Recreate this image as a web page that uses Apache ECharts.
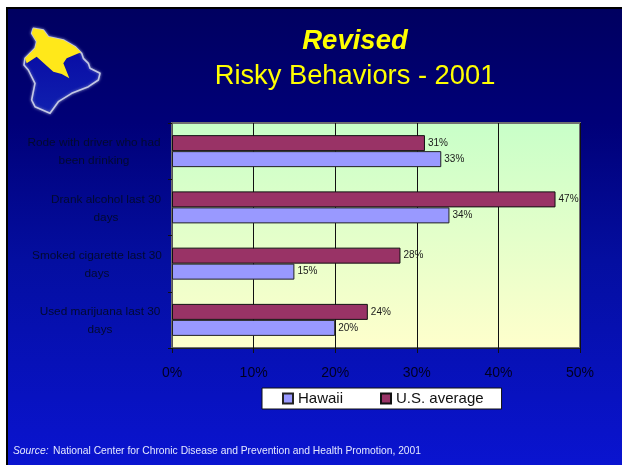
<!DOCTYPE html>
<html>
<head>
<meta charset="utf-8">
<style>html,body{margin:0;padding:0;background:#fff}#c{width:622px;height:465px}</style>
<script src="https://cdn.jsdelivr.net/npm/echarts@6/dist/echarts.min.js"></script>
</head>
<body>
<div id="c"></div>
<script>
const categories = ["Rode with driver who had\nbeen drinking", "Drank alcohol last 30\ndays", "Smoked cigarette last 30\ndays", "Used marijuana last 30\ndays"];
const hawaii = [33, 34, 15, 20];
const usAverage = [31, 47, 28, 24];
const xTicks = [0, 10, 20, 30, 40, 50];
const seriesNames = ["Hawaii", "U.S. average"];
const titleLines = ["Revised", "Risky Behaviors - 2001"];
const sourceNote = ["Source:", "National Center for Chronic Disease and Prevention and Health Promotion, 2001"];

const FONT = '"Liberation Sans", Arial, sans-serif';
const labelWidths = [136, 112, 130, 124];
const labelRich = {};
labelWidths.forEach((w, i) => { labelRich['c' + i] = { width: w, align: 'center', lineHeight: 18, fontSize: 11.8, fontFamily: FONT, color: '#020a30', padding: [2, 0, 0, 0] }; });

const chart = echarts.init(document.getElementById('c'), null, { renderer: 'canvas' });
const scale = p => p.map(([x, y]) => [x / 3, y / 3]);
const island = scale([[100,85],[130,90],[145,110],[190,120],[225,140],[245,160],[250,175],[265,190],[270,205],[300,220],[295,240],[265,260],[215,280],[175,305],[150,340],[105,320],[95,300],[105,250],[85,210],[72,195],[75,175],[105,145],[110,125],[95,100]]);
const north = scale([[100,85],[130,90],[145,110],[190,120],[225,140],[243,157],[200,175],[190,190],[208,235],[185,222],[160,215],[110,170],[80,190],[75,175],[105,145],[110,125],[95,100]]);

const barLabel = { show: true, position: 'right', distance: 3, formatter: '{c}%', color: '#1a1a1a', fontSize: 10, fontFamily: FONT };
chart.setOption({
  animation: false,
  backgroundColor: '#ffffff',
  graphic: [
    { type: 'rect', z: -10, shape: { x: 6, y: 7, width: 616, height: 458 }, style: { fill: '#000000' } },
    { type: 'rect', z: -9, shape: { x: 8, y: 9, width: 614, height: 456 }, style: { fill: new echarts.graphic.LinearGradient(0, 0, 0, 1, [
      { offset: 0, color: '#000060' }, { offset: 0.25, color: '#000078' }, { offset: 0.55, color: '#040ea0' }, { offset: 1, color: '#0a14d0' }
    ]) } },
    { type: 'polygon', z: 5, shape: { points: island }, style: { fill: new echarts.graphic.LinearGradient(0, 0, 0, 1, [{ offset: 0, color: '#0606a0' }, { offset: 1, color: '#1020b0' }]), stroke: '#c4c8e4', lineWidth: 1.6, lineJoin: 'round', shadowBlur: 3, shadowColor: '#8088c0' } },
    { type: 'polygon', z: 6, shape: { points: north }, style: { fill: '#ffe81a', stroke: 'none' } }
  ],
  title: [
    { text: titleLines[0], left: 355, top: 28, padding: 0, textAlign: 'center', textStyle: { color: '#ffff00', fontSize: 27.5, fontWeight: 'bold', fontStyle: 'italic', fontFamily: FONT } },
    { text: titleLines[1], left: 355, top: 63, padding: 0, textAlign: 'center', textStyle: { color: '#ffff00', fontSize: 27.3, fontWeight: 'normal', fontFamily: FONT } },
    { text: sourceNote[0], left: 13, top: 446, padding: 0, textStyle: { color: '#e4e8ff', fontSize: 10.3, fontStyle: 'italic', fontWeight: 'normal', fontFamily: FONT } },
    { text: sourceNote[1], left: 53, top: 446, padding: 0, textStyle: { color: '#e4e8ff', fontSize: 10.3, fontWeight: 'normal', fontFamily: FONT } }
  ],
  grid: {
    left: 172, right: 42, top: 123, bottom: 117, containLabel: false, show: true,
    borderColor: '#707070', borderWidth: 2,
    backgroundColor: new echarts.graphic.LinearGradient(0, 0, 0, 1, [{ offset: 0, color: '#c8ffc8' }, { offset: 1, color: '#ffffcc' }])
  },
  legend: {
    data: seriesNames, left: 262, top: 388, orient: 'horizontal', icon: 'rect', itemWidth: 10, itemHeight: 10, itemGap: 37,
    padding: [3, 18, 3, 20], backgroundColor: '#ffffff', borderColor: '#111111', borderWidth: 1, borderRadius: 0,
    textStyle: { color: '#111111', fontSize: 15, fontFamily: FONT }
  },
  xAxis: {
    type: 'value', min: 0, max: 50, interval: 10,
    axisLine: { show: true, lineStyle: { color: '#222', width: 1 } },
    axisTick: { show: true, length: 5, lineStyle: { color: '#111' } },
    splitLine: { show: true, lineStyle: { color: '#111', width: 1 } },
    axisLabel: { color: '#000020', fontSize: 14, margin: 18, fontFamily: FONT, formatter: v => xTicks.includes(v) ? v + '%' : '' }
  },
  yAxis: {
    type: 'category', inverse: true, data: categories,
    axisLine: { show: true, lineStyle: { color: '#555', width: 1 } },
    axisTick: { show: true, length: 4, alignWithLabel: false, lineStyle: { color: '#111' } },
    axisLabel: {
      interval: 0, margin: 10, align: 'right', rich: labelRich,
      formatter: (v, i) => v.split('\n').map(s => '{c' + i + '|' + s + '}').join('\n')
    }
  },
  series: [
    { name: seriesNames[1], type: 'bar', data: usAverage, barWidth: 16, barGap: '0%', itemStyle: { color: '#993366', borderColor: '#111', borderWidth: 1 }, label: barLabel },
    { name: seriesNames[0], type: 'bar', data: hawaii, barWidth: 16, barGap: '0%', itemStyle: { color: '#9999ff', borderColor: '#222', borderWidth: 1 }, label: barLabel }
  ]
});
</script>
</body>
</html>
